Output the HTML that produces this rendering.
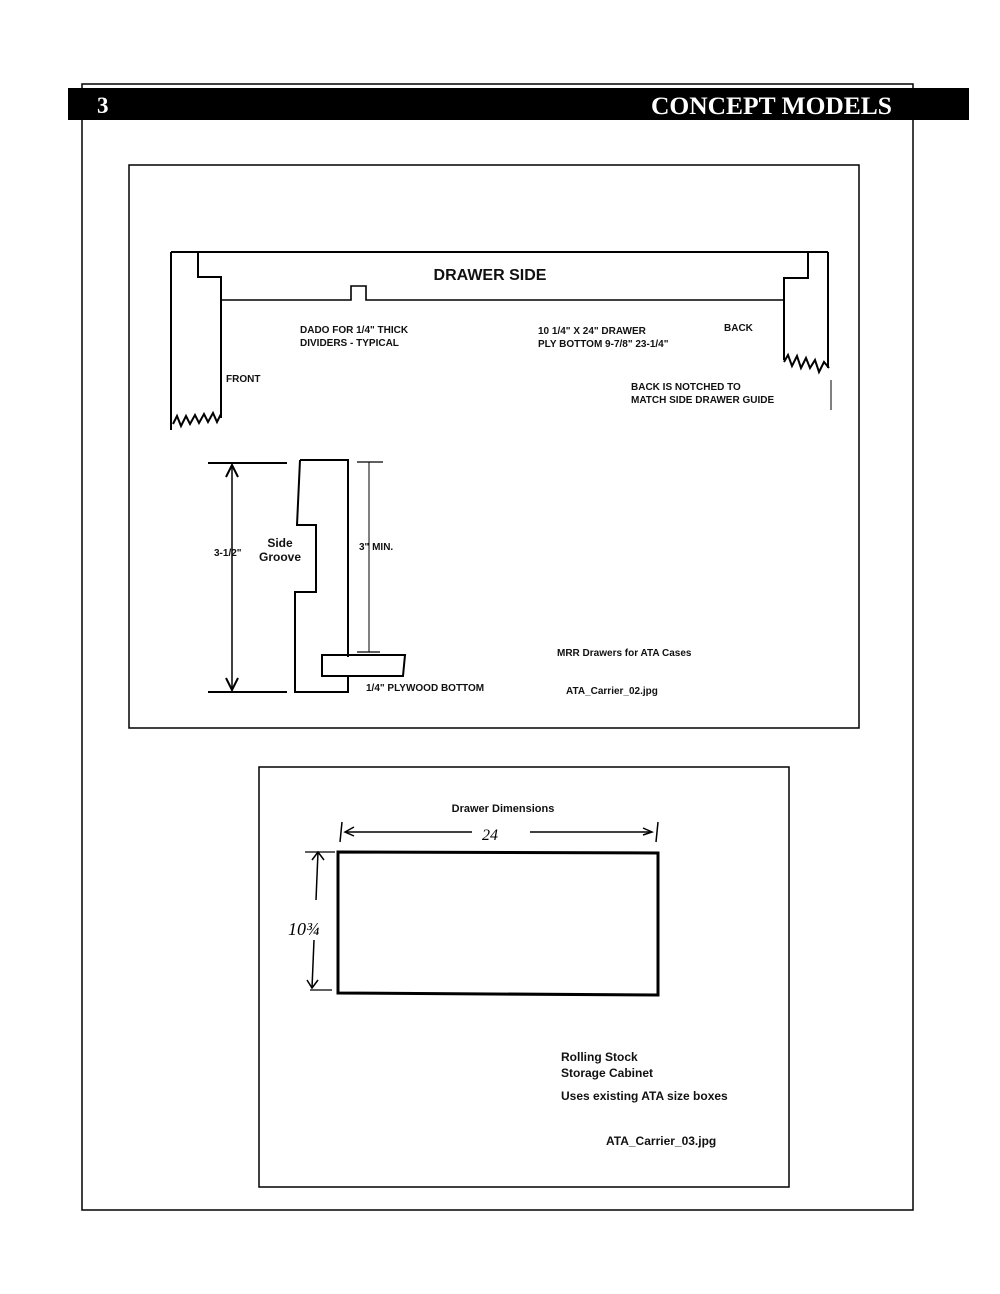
<!DOCTYPE html>
<html><head><meta charset="utf-8"><style>
html,body{margin:0;padding:0;background:#fff;}
svg{display:block}
</style></head><body>
<svg width="1000" height="1294" viewBox="0 0 1000 1294" xmlns="http://www.w3.org/2000/svg" font-family="Liberation Sans, Arial, sans-serif">
<rect width="1000" height="1294" fill="#fff"/>
<rect x="82" y="84" width="831" height="1126" fill="none" stroke="#000" stroke-width="1.5"/>
<rect x="68" y="88" width="901" height="32" fill="#000"/>
<text x="97" y="113" fill="#fff" font-family="Liberation Serif, serif" font-weight="bold" font-size="23">3</text>
<text x="892" y="114" fill="#fff" font-family="Liberation Serif, serif" font-weight="bold" font-size="25" text-anchor="end" textLength="241" lengthAdjust="spacingAndGlyphs">CONCEPT MODELS</text>

<rect x="129" y="165" width="730" height="563" fill="none" stroke="#000" stroke-width="1.5"/>
<g fill="none" stroke="#000" stroke-width="2">
<path d="M171 252 L198 252 L198 277 L221 277 L221 418"/>
<path d="M171 252 L171 430"/>
<path d="M173 424 L177 416 L181 426 L186 416 L190 424 L195 415 L199 423 L204 414 L208 422 L213 413 L217 422 L221 414"/>
<path d="M198 252 L828 252"/>
<path d="M221 300 L351 300 L351 286 L366 286 L366 300 L784 300" stroke-width="1.6"/>
<path d="M808 252 L808 278 L784 278 L784 360"/>
<path d="M828 252 L828 368"/>
<path d="M784 362 L788 355 L792 366 L797 356 L801 368 L806 358 L810 368 L815 360 L819 372 L824 362 L829 368"/>
<path d="M831 380 L831 410" stroke-width="1"/>
</g>
<g font-weight="bold" fill="#111">
<text x="490" y="280" font-size="16" text-anchor="middle">DRAWER SIDE</text>
<text x="300" y="333" font-size="10">DADO FOR 1/4" THICK</text>
<text x="300" y="346" font-size="10">DIVIDERS - TYPICAL</text>
<text x="538" y="334" font-size="10">10 1/4" X 24" DRAWER</text>
<text x="538" y="347" font-size="10">PLY BOTTOM 9-7/8" 23-1/4"</text>
<text x="724" y="331" font-size="10">BACK</text>
<text x="226" y="382" font-size="10">FRONT</text>
<text x="631" y="390" font-size="10">BACK IS NOTCHED TO</text>
<text x="631" y="403" font-size="10">MATCH SIDE DRAWER GUIDE</text>
</g>

<g fill="none" stroke="#000" stroke-width="2">
<path d="M208 463 L287 463 M208 692 L287 692"/>
<path d="M232 465 L232 690" stroke-width="1.5"/>
<path d="M226 477 L232 465 L238 477 M226 678 L232 690 L238 678"/>
<path d="M300 460 L348 460 L348 657 M300 460 L297 525 L316 525 L316 592 L295 592 L295 692 L348 692 L348 676"/>
<path d="M322 655 L405 655 L403 676 L322 676 Z" stroke-width="2"/>
<path d="M357 462 L383 462 M357 652 L380 652" stroke-width="1.2"/>
<path d="M369 462 L369 652" stroke-width="1"/>
</g>
<g font-weight="bold" fill="#111">
<text x="214" y="556" font-size="10">3-1/2"</text>
<text x="280" y="547" font-size="12" text-anchor="middle">Side</text>
<text x="280" y="561" font-size="12" text-anchor="middle">Groove</text>
<text x="359" y="550" font-size="10">3" MIN.</text>
<text x="366" y="691" font-size="10">1/4" PLYWOOD BOTTOM</text>
<text x="557" y="656" font-size="10">MRR Drawers for ATA Cases</text>
<text x="566" y="694" font-size="10">ATA_Carrier_02.jpg</text>
</g>

<rect x="259" y="767" width="530" height="420" fill="none" stroke="#000" stroke-width="1.5"/>
<g fill="none" stroke="#000">
<path d="M338 852 L658 853 L658 995 L338 993 Z" stroke-width="3"/>
<path d="M342 822 L340 842 M658 822 L656 842" stroke-width="1.5"/>
<path d="M345 832 L472 832 M530 832 L652 832" stroke-width="1.5"/>
<path d="M354 827 L345 832 L354 836 M643 828 L652 832 L643 835" stroke-width="1.5"/>
<path d="M318 852 L316 900 M314 940 L312 988" stroke-width="1.5"/>
<path d="M312 860 L318 852 L324 860 M307 980 L312 988 L318 980" stroke-width="1.5"/>
<path d="M305 852 L335 852 M310 990 L332 990" stroke-width="1.2"/>
</g>
<text x="490" y="840" font-size="16" font-family="Liberation Serif, serif" font-style="italic" text-anchor="middle">24</text>
<text x="288" y="935" font-size="18" font-family="Liberation Serif, serif" font-style="italic">10¾</text>
<g font-weight="bold" fill="#111">
<text x="503" y="812" font-size="11" text-anchor="middle">Drawer Dimensions</text>
<text x="561" y="1061" font-size="12">Rolling Stock</text>
<text x="561" y="1077" font-size="12">Storage Cabinet</text>
<text x="561" y="1100" font-size="12">Uses existing ATA size boxes</text>
<text x="606" y="1145" font-size="12">ATA_Carrier_03.jpg</text>
</g>
</svg>
</body></html>
